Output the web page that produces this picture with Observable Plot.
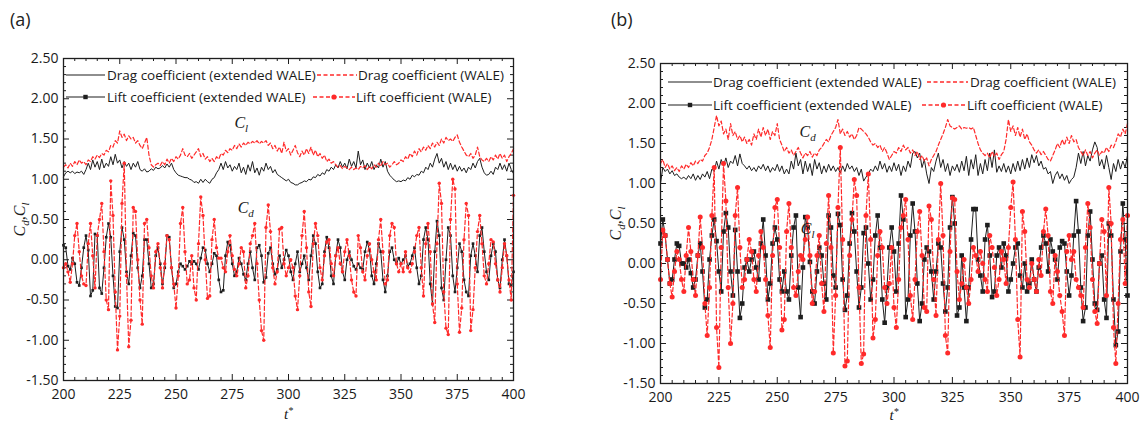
<!DOCTYPE html>
<html>
<head>
<meta charset="utf-8">
<script src="https://cdn.jsdelivr.net/npm/d3@7"></script>
<script src="https://cdn.jsdelivr.net/npm/@observablehq/plot@0.6"></script>
<style>
  body { margin: 0; background: #fff; }
  #root { position: relative; width: 1144px; height: 422px; overflow: hidden; background: #fff; font-family: 'Open Sans', sans-serif; }
  .panel { position: absolute; top: 0; }
  .plabel { position: absolute; font-size: 18px; color: #222; line-height: 22px; }
  .ltext { position: absolute; font-size: 13.5px; color: #1a1a1a; line-height: 16px; white-space: nowrap; }
  .lsw { position: absolute; }
</style>
</head>
<body>
<div id="root"></div>
<script>
// ---------------- data ----------------
const timeStart = 200;           // t* of the first sample, one sample per unit of t*
const xTicks = [200, 225, 250, 275, 300, 325, 350, 375, 400];
const yTicks = [-1.5, -1.0, -0.5, 0.0, 0.5, 1.0, 1.5, 2.0, 2.5];
const seriesLabels = ["Drag coefficient (extended WALE)", "Drag coefficient (WALE)", "Lift coefficient (extended WALE)", "Lift coefficient (WALE)"];
const panelLabels = ["(a)", "(b)"];
const yAxisLabel = "C|d,C|l";
const xAxisLabel = "t^*";

// Panel (a)
const dragExtA = [1.03,1.08,1.10,1.08,1.10,1.07,1.09,1.08,1.10,1.06,
1.12,1.20,1.12,1.24,1.15,1.22,1.12,1.25,1.14,1.20,
1.16,1.28,1.18,1.31,1.20,1.24,1.14,1.22,1.16,1.20,
1.12,1.20,1.15,1.22,1.12,1.10,1.13,1.09,1.10,1.13,
1.11,1.15,1.13,1.14,1.17,1.14,1.19,1.15,1.20,1.12,
1.08,1.05,1.04,1.03,1.02,1.02,1.00,0.99,0.96,0.97,
0.95,1.00,0.96,1.00,0.97,0.95,1.00,1.02,1.08,1.12,
1.20,1.12,1.22,1.14,1.18,1.10,1.16,1.12,1.20,1.08,
1.15,1.06,1.18,1.10,1.22,1.08,1.14,1.05,1.15,1.10,
1.20,1.12,1.16,1.08,1.12,1.06,1.04,1.02,1.00,0.98,
1.00,0.96,0.95,0.93,0.93,0.95,0.96,0.98,0.97,1.00,
0.99,1.03,1.02,1.06,1.04,1.08,1.06,1.12,1.10,1.15,
1.12,1.18,1.14,1.22,1.15,1.20,1.13,1.25,1.16,1.22,
1.14,1.35,1.18,1.24,1.12,1.20,1.14,1.22,1.12,1.18,
1.14,1.25,1.15,1.22,1.10,1.05,1.02,0.99,0.97,0.98,
0.97,0.99,0.98,1.02,1.00,1.05,1.03,1.06,1.05,1.10,
1.08,1.15,1.12,1.20,1.15,1.25,1.32,1.20,1.26,1.15,
1.22,1.12,1.20,1.12,1.18,1.10,1.16,1.10,1.14,1.08,
1.15,1.12,1.20,1.14,1.22,1.26,1.15,1.08,1.05,1.06,
1.10,1.06,1.15,1.12,1.20,1.12,1.18,1.10,1.20,1.12,
1.07];
const dragWaleA = [1.15,1.18,1.14,1.20,1.16,1.22,1.18,1.24,1.20,1.22,
1.18,1.24,1.22,1.28,1.25,1.30,1.27,1.32,1.30,1.36,
1.34,1.42,1.40,1.48,1.45,1.60,1.52,1.56,1.48,1.54,
1.50,1.52,1.45,1.48,1.42,1.38,1.45,1.52,1.30,1.18,
1.15,1.18,1.20,1.17,1.22,1.18,1.25,1.20,1.26,1.22,
1.28,1.25,1.30,1.38,1.30,1.28,1.32,1.26,1.30,1.34,
1.38,1.28,1.32,1.25,1.28,1.22,1.26,1.22,1.28,1.25,
1.32,1.30,1.36,1.33,1.38,1.36,1.42,1.38,1.44,1.40,
1.45,1.42,1.46,1.44,1.47,1.45,1.48,1.44,1.47,1.45,
1.48,1.42,1.45,1.38,1.42,1.35,1.40,1.32,1.46,1.35,
1.38,1.30,1.36,1.42,1.33,1.28,1.35,1.30,1.38,1.32,
1.40,1.30,1.36,1.28,1.32,1.26,1.30,1.22,1.25,1.20,
1.22,1.18,1.15,1.17,1.13,1.16,1.14,1.12,1.15,1.12,
1.14,1.12,1.16,1.14,1.17,1.12,1.16,1.13,1.18,1.15,
1.20,1.16,1.22,1.18,1.20,1.15,1.18,1.22,1.18,1.20,
1.24,1.22,1.28,1.25,1.32,1.28,1.35,1.30,1.38,1.34,
1.40,1.36,1.42,1.38,1.45,1.40,1.46,1.42,1.50,1.45,
1.52,1.48,1.50,1.47,1.52,1.55,1.46,1.40,1.35,1.30,
1.28,1.32,1.26,1.30,1.40,1.28,1.24,1.22,1.26,1.22,
1.28,1.24,1.30,1.25,1.32,1.26,1.30,1.22,1.28,1.32,
1.38];
const liftExtA = [0.18,0.15,-0.08,-0.12,0.02,-0.05,-0.28,-0.32,-0.10,0.15,
0.30,0.12,-0.45,-0.38,0.32,0.30,-0.35,-0.42,-0.10,0.28,
0.45,0.28,-0.20,-0.58,-0.60,0.10,0.40,0.25,-0.15,-0.30,
0.05,0.33,0.30,-0.10,-0.35,-0.20,0.25,0.25,-0.05,-0.35,
-0.30,0.05,0.15,-0.05,-0.30,-0.10,0.30,0.28,-0.10,-0.35,
-0.30,-0.15,-0.05,-0.08,-0.12,-0.08,-0.02,-0.05,-0.02,-0.05,
-0.12,0.02,0.15,0.12,-0.05,-0.15,-0.05,0.08,0.05,-0.25,
-0.40,-0.38,0.05,0.22,0.18,-0.05,-0.20,-0.15,0.02,-0.05,
-0.18,-0.25,-0.05,0.10,-0.10,-0.25,0.15,0.18,0.05,-0.28,
-0.22,0.08,0.15,-0.05,-0.18,-0.12,0.05,-0.10,0.00,0.12,
0.05,-0.15,-0.25,-0.05,0.10,-0.15,-0.05,0.05,-0.10,-0.25,
0.05,0.30,0.20,-0.15,-0.35,-0.30,0.10,0.28,0.15,-0.20,
-0.30,0.05,0.25,0.15,-0.15,-0.25,0.00,0.10,0.00,-0.08,
-0.12,-0.05,-0.10,-0.12,0.10,0.22,0.12,-0.20,-0.30,-0.05,
0.20,0.10,-0.25,-0.40,-0.20,0.10,0.15,0.00,-0.05,0.02,
-0.05,0.00,0.05,-0.08,-0.05,0.05,0.15,-0.10,-0.30,-0.20,
0.25,0.40,0.25,-0.30,-0.55,0.10,0.48,0.30,-0.35,-0.50,
0.00,0.40,0.30,-0.20,-0.40,-0.10,0.20,0.10,-0.25,-0.40,
-0.45,0.05,0.20,0.05,-0.15,0.30,0.40,0.10,-0.15,-0.25,
0.05,0.20,0.10,-0.25,-0.35,0.00,0.25,0.05,-0.30,-0.32,
-0.15];
const liftWaleA = [-0.10,-0.05,-0.15,-0.28,-0.05,0.30,0.45,0.10,-0.20,-0.30,
-0.32,0.20,0.45,0.05,-0.35,0.30,0.50,0.70,0.10,-0.50,
-0.62,0.98,0.55,-0.40,-1.12,-0.70,0.70,1.20,-0.20,-1.08,
-0.75,0.65,0.60,0.00,-0.50,-0.80,0.45,0.50,0.15,-0.20,
-0.35,0.10,0.20,-0.10,-0.35,-0.05,0.30,0.25,-0.10,-0.30,
-0.60,-0.20,0.45,0.65,0.10,-0.30,-0.25,0.05,-0.35,-0.50,
0.20,0.78,0.55,0.00,-0.48,-0.45,0.25,0.50,0.15,0.02,
0.02,-0.10,-0.15,0.10,0.30,0.05,-0.12,-0.20,-0.05,0.15,
0.10,-0.35,-0.20,0.20,0.30,0.45,-0.05,-0.50,-0.88,-1.00,
0.40,0.68,0.35,-0.10,-0.30,-0.15,0.38,0.40,-0.05,-0.20,
-0.10,0.00,-0.10,-0.45,-0.62,-0.20,0.30,0.60,0.15,-0.40,
-0.58,0.20,0.45,0.30,-0.10,-0.25,0.05,0.22,0.25,-0.05,
-0.20,0.05,0.15,-0.05,-0.15,0.10,0.25,0.05,-0.25,-0.40,
-0.45,0.30,0.15,-0.15,-0.25,0.05,0.20,0.00,-0.15,-0.25,
0.25,0.50,0.10,-0.30,-0.25,0.30,0.45,0.40,-0.05,-0.15,
-0.05,-0.15,0.10,-0.10,-0.15,-0.05,0.10,0.30,0.40,-0.10,
-0.45,0.20,0.45,0.10,-0.55,-0.78,0.20,0.95,0.70,-0.40,
-0.85,-0.93,0.50,1.00,0.88,-0.30,-0.90,-0.60,0.25,0.70,
0.55,-0.88,-0.62,-0.10,0.35,0.55,0.20,-0.20,-0.30,-0.05,
0.25,0.22,-0.05,-0.25,-0.40,-0.10,0.20,0.05,-0.25,-0.50,
0.80];
const annotationsA = [{t: 279, v: 1.70, label: "C|l"}, {t: 281, v: 0.64, label: "C|d"}];

// Panel (b)
const dragExtB = [1.00,1.20,1.15,1.18,1.12,1.16,1.10,1.12,1.08,1.06,
1.08,1.05,1.10,1.06,1.12,1.04,1.10,1.05,1.12,1.08,
1.15,1.06,1.18,1.15,1.28,1.18,1.30,1.22,1.32,1.20,
1.28,1.25,1.35,1.22,1.37,1.25,1.22,1.18,1.22,1.16,
1.20,1.15,1.22,1.18,1.24,1.16,1.22,1.14,1.20,1.16,
1.24,1.15,1.22,1.12,1.18,1.12,1.28,1.18,1.38,1.22,
1.30,1.12,1.28,1.15,1.25,1.10,1.30,1.18,1.26,1.12,
1.22,1.14,1.24,1.16,1.22,1.15,1.20,1.13,1.22,1.15,
1.25,1.18,1.22,1.15,1.20,1.10,1.18,1.03,1.08,1.12,
1.18,1.15,1.22,1.16,1.28,1.18,1.25,1.14,1.22,1.15,
1.26,1.16,1.24,1.10,1.22,1.15,1.28,1.20,1.38,1.40,
1.32,1.38,1.20,1.30,1.12,1.00,1.20,1.15,1.28,1.38,
1.20,1.30,1.15,1.25,1.10,1.22,1.16,1.24,1.14,1.28,
1.16,1.34,1.10,1.30,1.18,1.36,1.10,1.25,1.12,1.30,
1.16,1.38,1.20,1.42,1.14,1.22,1.15,1.25,1.14,1.22,
1.12,1.25,1.15,1.28,1.16,1.30,1.18,1.32,1.20,1.36,
1.26,1.35,1.22,1.28,1.18,1.20,1.12,1.15,1.00,1.10,
1.15,1.06,1.12,1.04,1.10,1.00,1.05,1.08,1.20,1.38,
1.25,1.40,1.22,1.35,1.28,1.42,1.52,1.45,1.22,1.30,
1.18,1.35,1.20,1.05,1.25,1.15,1.30,1.18,1.28,1.20,
1.35];
const dragWaleB = [1.25,1.30,1.20,1.25,1.18,1.22,1.16,1.20,1.15,1.22,
1.18,1.24,1.20,1.26,1.22,1.28,1.25,1.30,1.28,1.35,
1.38,1.45,1.55,1.70,1.85,1.72,1.78,1.62,1.68,1.55,
1.75,1.60,1.65,1.55,1.60,1.52,1.58,1.50,1.55,1.48,
1.62,1.55,1.68,1.58,1.70,1.60,1.68,1.55,1.65,1.60,
1.75,1.55,1.48,1.40,1.45,1.38,1.42,1.35,1.40,1.45,
1.38,1.32,1.38,1.35,1.40,1.33,1.38,1.35,1.42,1.45,
1.50,1.55,1.52,1.60,1.65,1.70,1.80,1.62,1.68,1.60,
1.65,1.58,1.62,1.55,1.60,1.70,1.68,1.65,1.62,1.58,
1.52,1.48,1.50,1.45,1.48,1.40,1.45,1.38,1.30,1.35,
1.40,1.38,1.45,1.40,1.48,1.42,1.45,1.38,1.42,1.35,
1.40,1.30,1.35,1.28,1.32,1.22,1.30,1.35,1.40,1.48,
1.55,1.62,1.70,1.80,1.72,1.70,1.68,1.70,1.72,1.68,
1.70,1.69,1.70,1.68,1.70,1.60,1.50,1.42,1.38,1.35,
1.38,1.32,1.40,1.34,1.38,1.30,1.36,1.40,1.55,1.80,
1.65,1.72,1.60,1.70,1.58,1.68,1.55,1.62,1.52,1.48,
1.42,1.38,1.42,1.36,1.40,1.35,1.30,1.28,1.35,1.42,
1.50,1.45,1.55,1.48,1.58,1.50,1.60,1.52,1.55,1.45,
1.40,1.35,1.42,1.35,1.40,1.32,1.38,1.42,1.35,1.40,
1.38,1.45,1.40,1.48,1.45,1.52,1.62,1.58,1.68,1.62,
1.75];
const liftExtB = [0.25,0.55,0.35,0.05,-0.25,-0.20,0.05,0.25,0.22,0.00,
0.00,-0.05,0.05,-0.12,-0.30,-0.20,0.10,0.25,-0.10,-0.55,
-0.45,0.05,0.35,0.55,0.28,-0.10,-0.35,0.40,0.63,0.45,
-0.10,-0.40,0.42,-0.10,-0.68,-0.50,-0.05,0.05,-0.10,0.05,
0.15,-0.05,-0.20,0.25,0.55,0.10,-0.45,-0.25,0.25,0.45,
0.30,-0.20,-0.35,-0.10,-0.35,-0.45,0.10,0.45,0.60,-0.30,
-0.67,-0.05,0.58,0.45,0.02,-0.35,-0.50,-0.10,0.20,0.10,
-0.25,-0.45,0.60,0.45,-0.15,-0.30,0.62,0.48,-0.20,-0.58,
-0.40,0.25,0.63,0.40,-0.10,-0.55,-0.30,0.38,0.45,0.00,
-0.45,-0.20,0.35,0.60,0.20,-0.45,-0.74,-0.30,0.20,0.45,
0.15,-0.35,0.25,0.85,0.55,-0.67,-0.45,0.35,0.75,0.40,
-0.25,-0.72,-0.50,0.05,0.20,0.15,-0.10,-0.45,-0.10,0.25,
0.20,-0.25,-0.60,-0.30,0.45,0.83,0.50,-0.65,-0.55,0.10,
-0.30,-0.72,-0.30,0.30,0.68,0.68,0.05,-0.15,-0.35,0.30,
0.48,0.10,-0.42,-0.35,0.10,0.20,-0.05,0.25,0.10,-0.35,
-0.20,0.00,0.20,0.25,-0.15,-0.30,0.00,-0.35,-0.25,0.05,
-0.20,-0.35,-0.05,0.20,0.35,0.25,-0.10,0.30,0.15,0.05,
-0.20,0.20,0.28,0.25,-0.10,-0.40,-0.15,0.35,0.78,0.40,
-0.30,-0.72,-0.55,0.35,0.65,0.05,-0.50,-0.58,0.00,0.10,
-0.45,-0.68,0.50,0.35,-0.45,-1.02,-0.85,0.15,0.75,0.30,
-0.40];
const liftWaleB = [-0.20,0.42,0.35,0.05,-0.25,-0.42,-0.10,0.15,0.05,-0.20,
-0.35,0.10,0.45,0.15,-0.20,-0.40,0.10,0.58,0.20,-0.50,
-0.90,-0.30,0.60,1.20,-0.80,-1.30,0.20,1.25,0.78,-0.30,
-1.00,-0.50,0.60,0.95,0.20,-0.30,-0.20,0.05,0.30,0.15,
-0.20,-0.35,0.10,0.40,0.20,-0.20,-0.65,-1.05,0.10,0.70,
0.80,0.20,-0.83,-0.70,0.40,0.75,0.20,-0.30,-0.40,-0.10,
0.10,0.05,0.30,0.58,0.10,-0.50,-0.35,0.10,0.35,-0.25,
-0.60,0.25,0.85,0.20,-1.12,-0.40,0.70,1.45,0.30,-1.28,
-1.22,0.10,0.55,1.05,0.85,-0.30,-1.25,-1.13,0.60,1.12,
0.30,-0.93,-0.70,0.10,0.40,0.20,-0.30,-0.50,-0.25,0.20,
-0.55,-0.80,-0.20,0.45,0.60,0.80,0.30,-0.40,-0.70,-0.20,
0.40,0.65,0.10,-0.55,-0.60,0.72,0.55,-0.20,-0.65,0.30,
1.00,0.35,-0.90,-1.12,0.15,0.82,0.80,-0.10,-0.45,-0.25,
0.05,-0.30,-0.50,-0.20,0.20,0.10,-0.10,0.15,0.00,-0.20,
-0.35,0.35,0.20,-0.05,-0.40,-0.20,0.15,0.05,-0.25,0.20,
0.70,1.02,0.30,-0.70,-1.17,0.65,0.40,-0.20,-0.30,0.00,
-0.20,-0.35,0.05,-0.15,0.40,0.68,0.35,-0.35,-0.50,0.10,
-0.10,-0.40,-0.60,-0.90,0.15,0.35,0.05,0.15,-0.20,-0.30,
-0.40,-0.55,0.20,0.75,0.45,-0.20,-0.60,-0.75,0.00,0.55,
0.40,-0.40,0.95,0.50,-0.80,-1.25,-0.50,0.30,0.55,-0.25,
0.60];
const annotationsB = [{t: 263, v: 1.65, label: "C|d"}, {t: 263, v: 0.43, label: "C|l"}];

// ---------------- drawing ----------------
const RED = "#ff2a2a", BLACK = "#1e1e1e";
const H = 422;
const toRows = arr => arr.map((v, i) => ({t: timeStart + i, v}));

function richText(svg) {
  svg.querySelectorAll("text").forEach(el => {
    const s = el.textContent;
    if (!/[|^]/.test(s)) return;
    const parts = [];
    for (let i = 0; i < s.length; i++) {
      const c = s[i];
      if (c === "|") parts.push([s[++i], "sub"]);
      else if (c === "^") parts.push([s[++i], "sup"]);
      else parts.push([c, "main"]);
    }
    while (el.firstChild) el.removeChild(el.firstChild);
    let off = 0;
    for (const [ch, k] of parts) {
      const target = k === "sub" ? 4 : k === "sup" ? -5 : 0;
      const ts = document.createElementNS("http://www.w3.org/2000/svg", "tspan");
      ts.textContent = ch;
      if (target !== off) ts.setAttribute("dy", target - off);
      if (k !== "main") ts.setAttribute("font-size", k === "sup" ? 10 : 11);
      el.appendChild(ts);
      off = target;
    }
  });
}

function makePanel(cfg) {
  const {dragExt, dragWale, liftExt, liftWale, ann, width, mL, mR, mT, mB, sq, rc, ylabDx, xlabDy} = cfg;
  const ph = H - mT - mB, pw = width - mL - mR;
  const ky = 4 / ph, kx = 200 / pw;
  const xMinor = d3.range(200, 401, 5).filter(d => d % 25 !== 0);
  const yMinor = d3.range(-15, 26).filter(d => d % 5 !== 0).map(d => d / 10);
  const tickStroke = {stroke: BLACK, strokeWidth: 1};
  const chart = Plot.plot({
    width, height: H,
    marginLeft: mL, marginRight: mR, marginTop: mT, marginBottom: mB,
    x: {domain: [200, 400]},
    y: {domain: [-1.5, 2.5]},
    style: {fontFamily: "'Open Sans', sans-serif", fontSize: "14px", color: "#1a1a1a", background: "transparent", overflow: "visible"},
    marks: [
      Plot.axisX({ticks: xTicks, tickSize: 0, tickPadding: 9, tickFormat: d => String(d), label: null, fontSize: 14}),
      Plot.axisY({ticks: yTicks, tickSize: 0, tickPadding: 5, tickFormat: d => d.toFixed(2), label: null, fontSize: 14}),
      // inward ticks on all four sides
      Plot.ruleX(xTicks, {x: d => d, y1: -1.5, y2: -1.5 + 6 * ky, ...tickStroke}),
      Plot.ruleX(xTicks, {x: d => d, y1: 2.5, y2: 2.5 - 6 * ky, ...tickStroke}),
      Plot.ruleX(xMinor, {x: d => d, y1: -1.5, y2: -1.5 + 3 * ky, ...tickStroke}),
      Plot.ruleX(xMinor, {x: d => d, y1: 2.5, y2: 2.5 - 3 * ky, ...tickStroke}),
      Plot.ruleY(yTicks, {y: d => d, x1: 200, x2: 200 + 6 * kx, ...tickStroke}),
      Plot.ruleY(yTicks, {y: d => d, x1: 400, x2: 400 - 6 * kx, ...tickStroke}),
      Plot.ruleY(yMinor, {y: d => d, x1: 200, x2: 200 + 3 * kx, ...tickStroke}),
      Plot.ruleY(yMinor, {y: d => d, x1: 400, x2: 400 - 3 * kx, ...tickStroke}),
      // series
      Plot.line(toRows(dragExt), {x: "t", y: "v", stroke: BLACK, strokeWidth: 1}),
      Plot.line(toRows(dragWale), {x: "t", y: "v", stroke: RED, strokeWidth: 1.2, strokeDasharray: "4,2.5"}),
      Plot.line(toRows(liftExt), {x: "t", y: "v", stroke: BLACK, strokeWidth: 1}),
      Plot.dot(toRows(liftExt), {x: "t", y: "v", symbol: "square", r: sq, fill: BLACK, stroke: "none"}),
      Plot.line(toRows(liftWale), {x: "t", y: "v", stroke: RED, strokeWidth: 1.2, strokeDasharray: "4,2.5"}),
      Plot.dot(toRows(liftWale), {x: "t", y: "v", r: rc, fill: RED, stroke: "none"}),
      Plot.frame({stroke: BLACK, strokeWidth: 1.3}),
      // annotations
      Plot.text(ann, {x: "t", y: "v", text: "label", fontFamily: "'Liberation Serif', 'DejaVu Serif', serif", fontStyle: "italic", fontSize: 16, fill: "#1a1a1a"}),
      Plot.text([yAxisLabel], {text: d => d, frameAnchor: "left", dx: ylabDx, rotate: -90, textAnchor: "middle", fontFamily: "'Liberation Serif', 'DejaVu Serif', serif", fontStyle: "italic", fontSize: 16, fill: "#1a1a1a"}),
      Plot.text([xAxisLabel], {text: d => d, frameAnchor: "bottom", dy: xlabDy, textAnchor: "middle", fontFamily: "'Liberation Serif', 'DejaVu Serif', serif", fontStyle: "italic", fontSize: 15, fill: "#1a1a1a"})
    ]
  });
  richText(chart);
  return chart;
}

const root = document.getElementById("root");
const pa = document.createElement("div"); pa.className = "panel"; pa.style.left = "0px";
const pb = document.createElement("div"); pb.className = "panel"; pb.style.left = "580px";
root.appendChild(pa); root.appendChild(pb);

pa.appendChild(makePanel({dragExt: dragExtA, dragWale: dragWaleA, liftExt: liftExtA, liftWale: liftWaleA, ann: annotationsA,
  width: 560, mL: 63, mR: 47, mT: 58, mB: 42, sq: 1.5, rc: 1.7, ylabDx: -44, xlabDy: 38}));
pb.appendChild(makePanel({dragExt: dragExtB, dragWale: dragWaleB, liftExt: liftExtB, liftWale: liftWaleB, ann: annotationsB,
  width: 564, mL: 80, mR: 17, mT: 63, mB: 39, sq: 2.6, rc: 2.5, ylabDx: -45, xlabDy: 36}));

// panel letters
[[panelLabels[0], 10], [panelLabels[1], 611]].forEach(([txt, x]) => {
  const d = document.createElement("div"); d.className = "plabel";
  d.style.left = x + "px"; d.style.top = "8px"; d.textContent = txt; root.appendChild(d);
});

// legends (inside each plot frame)
function swatch(kind, w) {
  const red = kind === "dWale" || kind === "lWale";
  const col = red ? RED : BLACK;
  let s = `<svg width="${w}" height="12" style="display:block;overflow:visible">`;
  s += `<line x1="0" y1="6" x2="${w}" y2="6" stroke="${col}" stroke-width="${red ? 1.3 : 1.2}" ${red ? 'stroke-dasharray="4,2.5"' : ''}/>`;
  if (kind === "lExt") s += `<rect x="${w / 2 - 2.2}" y="3.8" width="4.4" height="4.4" fill="${col}"/>`;
  if (kind === "lWale") s += `<circle cx="${w / 2}" cy="6" r="2.6" fill="${col}"/>`;
  return s + "</svg>";
}
function legend(rows) {
  rows.forEach(r => {
    const sw = document.createElement("div"); sw.className = "lsw";
    sw.style.left = r.x1 + "px"; sw.style.top = (r.y - 6) + "px";
    sw.innerHTML = swatch(r.kind, r.x2 - r.x1);
    root.appendChild(sw);
    const t = document.createElement("div"); t.className = "ltext";
    t.style.left = r.tx + "px"; t.style.top = (r.y - 8.5) + "px"; t.textContent = r.label;
    root.appendChild(t);
  });
}
legend([
  {kind: "dExt", x1: 66, x2: 105, tx: 107, y: 75, label: seriesLabels[0]},
  {kind: "dWale", x1: 317, x2: 357, tx: 358, y: 75, label: seriesLabels[1]},
  {kind: "lExt", x1: 66, x2: 105, tx: 107, y: 97, label: seriesLabels[2]},
  {kind: "lWale", x1: 313, x2: 355, tx: 356, y: 97, label: seriesLabels[3]},
  {kind: "dExt", x1: 668, x2: 712, tx: 713, y: 82, label: seriesLabels[0]},
  {kind: "dWale", x1: 927, x2: 968, tx: 970, y: 82, label: seriesLabels[1]},
  {kind: "lExt", x1: 668, x2: 712, tx: 713, y: 105, label: seriesLabels[2]},
  {kind: "lWale", x1: 922, x2: 965, tx: 967, y: 105, label: seriesLabels[3]}
]);
</script>
</body>
</html>
